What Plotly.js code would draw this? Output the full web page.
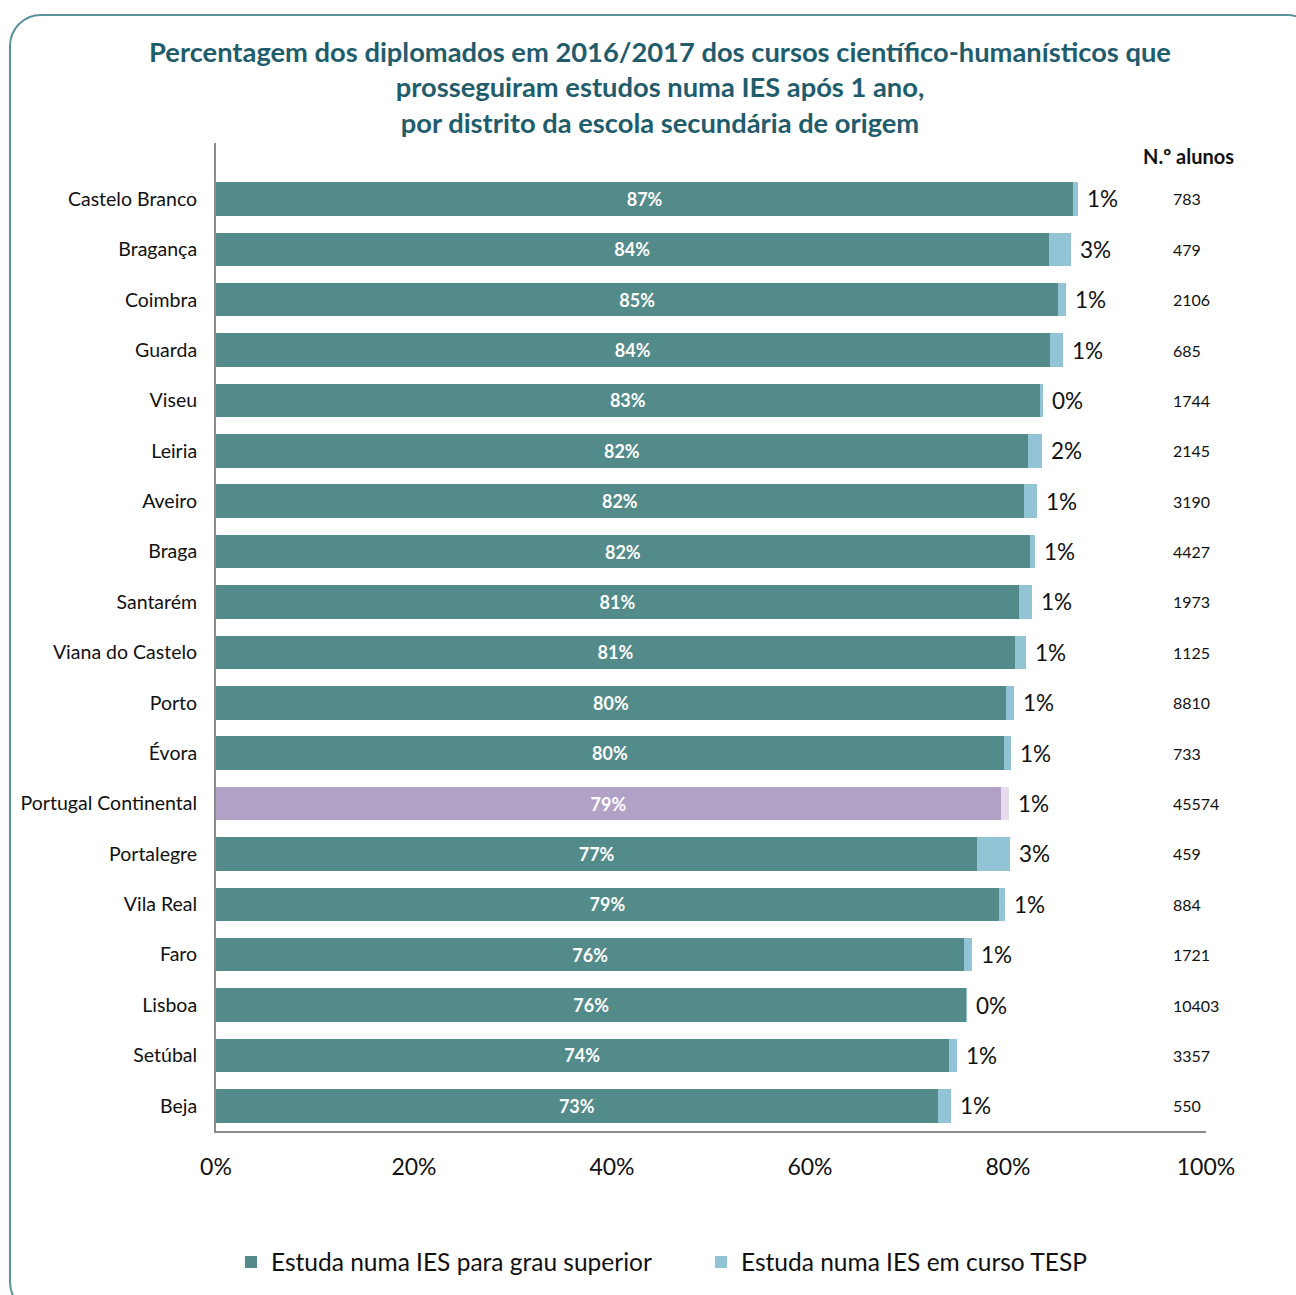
<!DOCTYPE html>
<html>
<head>
<meta charset="utf-8">
<script src="https://cdn.plot.ly/plotly-3.0.1.min.js"></script>
<style>
  html, body { margin: 0; padding: 0; background: #ffffff; overflow: hidden; }
  #wrap { position: relative; width: 1296px; height: 1295px; overflow: hidden; }
  #chart { position: absolute; left: 0; top: 0; width: 1296px; height: 1295px; }
  #frame { position: absolute; left: 9px; top: 14px; width: 1310px; height: 1300px;
           border: 2px solid #5b9199; border-radius: 32px; pointer-events: none; box-sizing: border-box; }
</style>
</head>
<body>
<div id="wrap">
  <div id="chart"></div>
  <div id="frame"></div>
</div>
<script>
// ---- Data ----
const districts = [
  "Castelo Branco", "Bragança", "Coimbra", "Guarda", "Viseu", "Leiria", "Aveiro",
  "Braga", "Santarém", "Viana do Castelo", "Porto", "Évora", "Portugal Continental",
  "Portalegre", "Vila Real", "Faro", "Lisboa", "Setúbal", "Beja"
];
// % that study in an IES for a higher-education degree
const grauSuperior = [86.6, 84.1, 85.1, 84.2, 83.2, 82.0, 81.6, 82.2, 81.1, 80.7,
                      79.8, 79.6, 79.3, 76.9, 79.1, 75.6, 75.8, 74.0, 72.9];
// % that study in an IES in a TESP course
const cursoTESP = [0.45, 2.3, 0.8, 1.4, 0.3, 1.4, 1.3, 0.55, 1.3, 1.1,
                   0.8, 0.7, 0.8, 3.3, 0.6, 0.8, 0.05, 0.8, 1.3];
// labels printed for the TESP share
const tespLabels = ["1%", "3%", "1%", "1%", "0%", "2%", "1%", "1%", "1%", "1%",
                    "1%", "1%", "1%", "3%", "1%", "1%", "0%", "1%", "1%"];
// number of students
const nAlunos = [783, 479, 2106, 685, 1744, 2145, 3190, 4427, 1973, 1125,
                 8810, 733, 45574, 459, 884, 1721, 10403, 3357, 550];
const xTicks = [0, 20, 40, 60, 80, 100];
const seriesNames = ["Estuda numa IES para grau superior", "Estuda numa IES em curso TESP"];
const highlight = "Portugal Continental";

// ---- Styling ----
const FONT = "Lato, 'Open Sans', sans-serif";
const TEAL = "#538a8a", LIGHT = "#93c4d6", PURPLE = "#b2a1c7", PALE = "#e5dded";
const W = 1296, H = 1295;

const grauColors = districts.map(d => d === highlight ? PURPLE : TEAL);
const tespColors = districts.map(d => d === highlight ? PALE : LIGHT);

const traces = [
  {
    type: "bar", orientation: "h", name: seriesNames[0],
    y: districts, x: grauSuperior,
    marker: { color: grauColors, line: { width: 0 } },
    texttemplate: "%{x:.0f}%", textposition: "inside", insidetextanchor: "middle",
    constraintext: "none",
    insidetextfont: { family: FONT, size: 18, color: "#ffffff", weight: "bold" },
    hoverinfo: "skip"
  },
  {
    type: "bar", orientation: "h", name: seriesNames[1],
    y: districts, x: cursoTESP,
    marker: { color: tespColors, line: { width: 0 } },
    hoverinfo: "skip"
  }
];

const annotations = [];
districts.forEach((d, i) => {
  annotations.push({
    xref: "x", yref: "y", x: grauSuperior[i] + cursoTESP[i], y: d,
    text: tespLabels[i], showarrow: false, xanchor: "left", yanchor: "middle",
    xshift: 7, font: { family: FONT, size: 22.5, color: "#111111" }
  });
  annotations.push({
    xref: "paper", yref: "y", x: (1171 - 216) / 990, y: d,
    text: String(nAlunos[i]), showarrow: false, xanchor: "left", yanchor: "middle",
    font: { family: FONT, size: 16, color: "#111111" }
  });
});
annotations.push({
  xref: "paper", yref: "paper", x: (1188 - 216) / 990, y: (1131 - 156) / 988,
  text: "<b>N.º alunos</b>", showarrow: false, xanchor: "center", yanchor: "middle",
  font: { family: FONT, size: 20, color: "#111111" }
});

const layout = {
  width: W, height: H,
  paper_bgcolor: "#ffffff", plot_bgcolor: "#ffffff",
  margin: { l: 216, r: 90, t: 143, b: 164, pad: 0 },
  font: { family: FONT, color: "#111111" },
  title: {
    text: "Percentagem dos diplomados em 2016/2017 dos cursos científico-humanísticos que<br>prosseguiram estudos numa IES após 1 ano,<br>por distrito da escola secundária de origem",
    font: { family: FONT, size: 27.3, color: "#1f5c6c", weight: "bold" },
    xref: "container", x: 660 / W, xanchor: "center",
    yref: "container", y: 1 - 62 / H, yanchor: "top"
  },
  barmode: "stack",
  bargap: 0.335,
  showlegend: true,
  legend: {
    orientation: "h", xref: "container", yref: "container",
    x: 701 / W, xanchor: "center", y: 1 - 1262 / H, yanchor: "middle",
    font: { family: FONT, size: 24.5, color: "#111111" },
    itemwidth: 30, traceorder: "normal", entrywidth: 425
  },
  xaxis: {
    range: [0, 100], tickvals: xTicks, ticktext: xTicks.map(v => v + "%"),
    showgrid: false, zeroline: false, showline: true, linecolor: "#8c8c8c", linewidth: 2,
    ticks: "", ticklabelstandoff: 14,
    tickfont: { family: FONT, size: 23, color: "#111111" }, fixedrange: true
  },
  yaxis: {
    type: "category", categoryorder: "array", categoryarray: districts,
    range: [18.5, -1.11],
    showgrid: false, zeroline: false, showline: true, linecolor: "#8c8c8c", linewidth: 2,
    ticks: "", ticklabelstandoff: 13,
    tickfont: { family: FONT, size: 19.5, color: "#111111" }, fixedrange: true
  },
  annotations: annotations
};

Plotly.newPlot("chart", traces, layout, { displayModeBar: false, staticPlot: true });
</script>
</body>
</html>
